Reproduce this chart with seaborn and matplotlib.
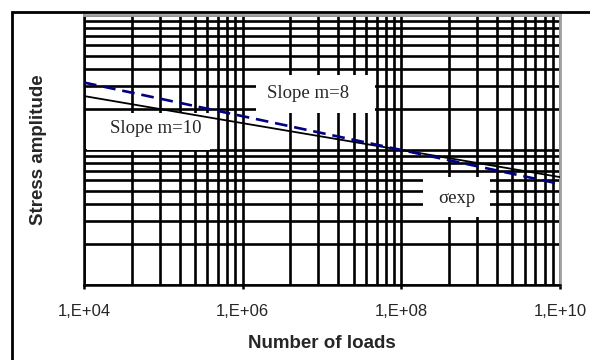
import matplotlib
matplotlib.use("Agg")
import matplotlib.pyplot as plt
import matplotlib.ticker as mticker
import matplotlib.patches as mpatches
import numpy as np
import pandas as pd
import seaborn as sns

# S-N curves: number of load cycles vs stress amplitude
n_loads = [1e4, 1e6, 1e8, 1e10]
stress_m8 = [316, 178, 100, 56]
stress_m10 = [251, 158, 100, 63]

x_ticks = [1e4, 1e6, 1e8, 1e10]
x_tick_labels = ["1,E+04", "1,E+06", "1,E+08", "1,E+10"]
y_limits = [10, 1000]

sns.set_style("white")
plt.rcParams["font.family"] = ["Liberation Sans", "DejaVu Sans"]

fig = plt.figure(figsize=(5.9, 3.6), dpi=100)
ax = fig.add_axes([84 / 590, 75 / 360, 476 / 590, 270 / 360])

df = pd.DataFrame({
    "N": n_loads * 2,
    "S": stress_m8 + stress_m10,
    "curve": ["m=8"] * len(n_loads) + ["m=10"] * len(n_loads),
})

sns.lineplot(data=df[df.curve == "m=10"], x="N", y="S", ax=ax,
             color="black", lw=1.3, zorder=5, legend=False)
sns.lineplot(data=df[df.curve == "m=8"], x="N", y="S", ax=ax,
             color="#000080", lw=1.9, ls=(0, (4.8, 2.6)), zorder=6, legend=False)

ax.set_xscale("log")
ax.set_yscale("log")
ax.set_xlim(n_loads[0], n_loads[-1])
ax.set_ylim(*y_limits)

# base-100 major ticks with decade-style minor divisions
ax.set_xticks(x_ticks, labels=x_tick_labels)
ax.xaxis.set_minor_locator(mticker.LogLocator(base=100, subs=[4, 9, 16, 25, 36, 49, 64, 81], numticks=20))
ax.xaxis.set_minor_formatter(mticker.NullFormatter())
ax.yaxis.set_major_locator(mticker.LogLocator(base=10, numticks=10))
ax.yaxis.set_minor_locator(mticker.LogLocator(base=10, subs=np.arange(2, 10), numticks=20))
ax.yaxis.set_major_formatter(mticker.NullFormatter())
ax.yaxis.set_minor_formatter(mticker.NullFormatter())

ax.grid(True, which="both", color="black", lw=1.9, zorder=1)
ax.set_axisbelow(True)

ax.tick_params(axis="x", which="major", direction="out", length=3, width=1.8,
               color="black", labelsize=12, pad=11, bottom=True)
ax.tick_params(axis="x", which="minor", length=0)
ax.tick_params(axis="y", which="both", length=0, left=False)

for side in ("left", "bottom"):
    ax.spines[side].set_color("black")
    ax.spines[side].set_linewidth(1.8)
for side in ("top", "right"):
    ax.spines[side].set_color("#a0a0a0")
    ax.spines[side].set_linewidth(2.0)
    ax.spines[side].set_visible(True)

ax.set_xlabel("Number of loads", fontsize=13.5, fontweight="bold", labelpad=11)
ax.set_ylabel("Stress amplitude", fontsize=13.5, fontweight="bold", labelpad=23)

# annotation boxes, given in axes fractions
def label_box(x0, x1, y0, y1, text, tx, ty):
    ax.add_patch(mpatches.Rectangle((x0, y0), x1 - x0, y1 - y0, transform=ax.transAxes,
                                    facecolor="white", edgecolor="none", zorder=3))
    ax.text(tx, ty, text, transform=ax.transAxes, ha="center", va="center",
            fontsize=13.5, family=["Liberation Serif", "DejaVu Serif"], zorder=4)

label_box(0.361, 0.611, 0.637, 0.778, "Slope m=8", 0.471, 0.711)
label_box(0.006, 0.265, 0.500, 0.637, "Slope m=10", 0.151, 0.581)
label_box(0.712, 0.853, 0.252, 0.400, "σexp", 0.784, 0.322)

# outer chart frame
fig.add_artist(mpatches.Rectangle((12 / 590, -0.05), 1.0, (348 / 360) + 0.05,
                                  transform=fig.transFigure, fill=False,
                                  edgecolor="black", lw=2.0))

fig.savefig("out.png", dpi=100)
